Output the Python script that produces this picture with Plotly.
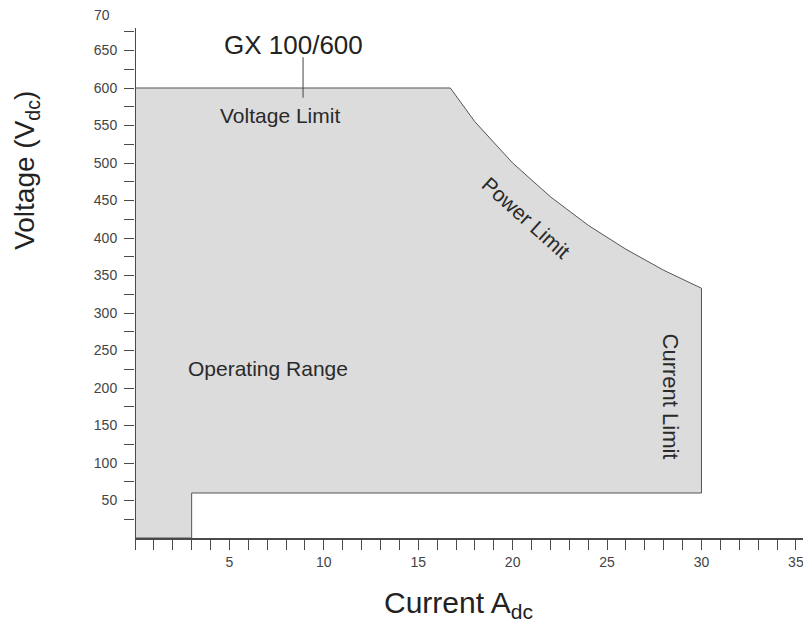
import plotly.graph_objects as go

# Operating envelope outline (current A, voltage V)
current_a = [0, 0, 16.7, 18, 20, 22, 24, 26, 28, 30, 30, 3, 3, 0]
voltage_v = [0, 600, 600, 555, 500, 455, 417, 385, 357, 333, 60, 60, 0, 0]

# Marker line for the model label
marker_x = [8.9, 8.9]
marker_y = [641, 587]

x_tickvals = [5, 10, 15, 20, 25, 30, 35]
x_ticktext = ["5", "10", "15", "20", "25", "30", "35"]
y_tickvals = [50, 100, 150, 200, 250, 300, 350, 400, 450, 500, 550, 600, 650]
y_ticktext = [str(v) for v in y_tickvals]
y_minor = [25, 75, 125, 175, 225, 275, 325, 375, 425, 475, 525, 575, 625, 675]

FONT = "Liberation Sans, Arial, sans-serif"
AXIS = "#4a4a4a"
TXT = "#2a2a2a"

# page body has an 8px margin, so the figure is sized/offset to compensate
fig = go.Figure()
fig.add_trace(go.Scatter(
    x=current_a, y=voltage_v, mode="lines", fill="toself",
    fillcolor="#dcdcdc", line=dict(color="#555555", width=1),
    hoverinfo="skip", showlegend=False))
fig.add_trace(go.Scatter(
    x=marker_x, y=marker_y, mode="lines",
    line=dict(color="#444444", width=1), hoverinfo="skip", showlegend=False))

fig.update_layout(
    width=803, height=623,
    margin=dict(l=127, r=0, t=5, b=92.5),
    paper_bgcolor="white", plot_bgcolor="white",
    font=dict(family=FONT, color="#333333"),
    showlegend=False,
)
fig.update_xaxes(
    range=[0, 35.8], showgrid=False, zeroline=False, automargin=False,
    showline=True, linecolor=AXIS, linewidth=2,
    ticks="outside", ticklen=10, tickcolor=AXIS, tickwidth=1,
    tickvals=x_tickvals, ticktext=x_ticktext,
    tickfont=dict(size=14, color="#444444", family=FONT),
    minor=dict(dtick=1, ticks="outside", ticklen=10, tickcolor=AXIS, tickwidth=1),
)
fig.update_yaxes(
    range=[0, 700], showgrid=False, zeroline=False, automargin=False,
    showline=False,
    ticks="outside", ticklen=10, tickcolor=AXIS, tickwidth=1,
    tickvals=y_tickvals, ticktext=y_ticktext, ticklabelstandoff=4,
    tickfont=dict(size=14, color="#444444", family=FONT),
    minor=dict(tickvals=y_minor, ticks="outside", ticklen=10, tickcolor=AXIS, tickwidth=1),
)
# y axis line (stops just above the last tick)
fig.add_shape(type="line", xref="x", yref="y", x0=0, x1=0, y0=0, y1=680,
              line=dict(color=AXIS, width=2))

fig.add_annotation(xref="paper", yref="y", x=(92 - 135) / 676, y=698, text="70",
                   xanchor="left", yanchor="middle", showarrow=False,
                   font=dict(family=FONT, size=14, color="#444444"))
fig.add_annotation(x=8.38, y=658, text="GX 100/600", xanchor="center", yanchor="middle",
                   font=dict(family=FONT, size=26, color="#222222"), showarrow=False)
fig.add_annotation(x=7.69, y=563, text="Voltage Limit", xanchor="center", yanchor="middle",
                   font=dict(family=FONT, size=21, color=TXT), showarrow=False)
fig.add_annotation(x=20.69, y=427, text="Power Limit", textangle=42,
                   xanchor="center", yanchor="middle",
                   font=dict(family=FONT, size=21, color=TXT), showarrow=False)
fig.add_annotation(x=28.41, y=188, text="Current Limit", textangle=90,
                   xanchor="center", yanchor="middle",
                   font=dict(family=FONT, size=22, color=TXT), showarrow=False)
fig.add_annotation(x=7.05, y=226, text="Operating Range", xanchor="center", yanchor="middle",
                   font=dict(family=FONT, size=21, color=TXT), showarrow=False)

fig.add_annotation(xref="paper", yref="paper", x=(27 - 135) / 676, y=(538.5 - 170) / 525.5,
                   text="Voltage (V<sub>dc</sub>)", textangle=-90,
                   xanchor="center", yanchor="middle", borderpad=0,
                   font=dict(family=FONT, size=28, color="#222222"), showarrow=False)
fig.add_annotation(xref="paper", yref="paper", x=(458 - 135) / 676, y=(538.5 - 605) / 525.5,
                   text="Current A<sub>dc</sub>",
                   xanchor="center", yanchor="middle",
                   font=dict(family=FONT, size=30, color="#222222"), showarrow=False)

fig.write_html("out.html")
